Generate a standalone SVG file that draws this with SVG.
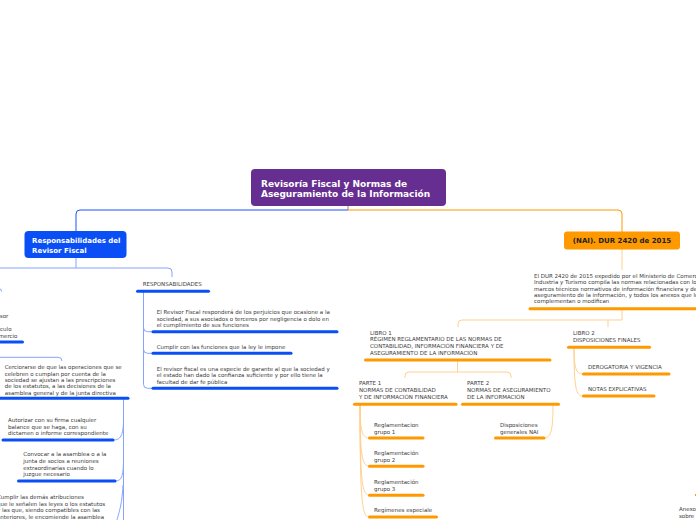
<svg xmlns="http://www.w3.org/2000/svg" width="696" height="520" viewBox="0 0 696 520">
<style>
.t{font-family:"DejaVu Sans",Verdana,sans-serif;font-size:5.5px;fill:#3a3a3a}
.ub{stroke:#0a4ff5;stroke-width:3;stroke-linecap:round;fill:none}
.uo{stroke:#ff9900;stroke-width:3;stroke-linecap:round;fill:none}
.cb{stroke:#86a3ff;stroke-width:1;fill:none}
.co{stroke:#ffd08f;stroke-width:1;fill:none}
.hb{font-family:"DejaVu Sans",Verdana,sans-serif;font-weight:bold;fill:#fff}
</style>
<rect width="696" height="520" fill="#fff"/>
<g id="connectors">
<path d="M348,206 V210" stroke="#a08a70" fill="none"/>
<path d="M348,210 H80 Q76,210 76,214 V231" stroke="#1a50ff" fill="none"/>
<path d="M348,210 H618 Q622,210 622,214 V232" stroke="#ff9900" fill="none"/>
<path class="cb" d="M76,258 V268 M0,268 H168 Q172,268 172,272 V277"/>
<path class="cb" d="M143.5,292 V384.3 Q143.5,388.3 147.5,388.3 H153 M143.5,327.7 Q143.5,331.7 147.5,331.7 H153 M143.5,349.3 Q143.5,353.3 147.5,353.3 H153"/>
<path class="cb" d="M0,289 Q1.5,289 1.5,291.5"/>
<path class="cb" d="M0,357.3 H58 Q62,357.3 62,361"/>
<path class="cb" d="M123.5,399 V520 M123.5,420 C123.5,436 120,440 113.5,440 M123.5,460 C123.5,477 121,481 115.5,481 M123,485 C122,505 119,512 117,520"/>
<path class="co" d="M622,249 V270"/>
<path class="co" d="M622,309 V320 H462 Q458,320 458,324 V327 M608,320 V327"/>
<path class="co" d="M457.5,360 V372 M405,378 V376 Q405,372 409,372 H507 Q511,372 511,376 V378"/>
<path class="co" d="M360,405 C360,430 362,438 369,438 M360,405 C360,455 362,466 369,466 M360,405 C360,480 362,495 369,495 M360,405 C360,500 362,517 369,517"/>
<path class="co" d="M553,405 C553,430 551,438 544,438"/>
<path class="co" d="M574,348 C574,368 576,374 583,374 M574,348 C574,388 576,396 583,396"/>
</g>
<g id="root">
<rect x="251" y="169" width="195" height="37" rx="4" fill="#662e91"/>
<text class="hb" font-size="9" x="261" y="186.7">Revisoría Fiscal y Normas de</text>
<text class="hb" font-size="9" x="261" y="196.7">Aseguramiento de la Información</text>
</g>
<g id="responsabilidades">
<rect x="24.5" y="231" width="102" height="27" rx="4" fill="#0a4ff5"/>
<text class="hb" font-size="7" x="32" y="243.3">Responsabilidades del</text>
<text class="hb" font-size="7" x="32" y="252.5">Revisor Fiscal</text>
</g>
<g id="nai">
<rect x="564" y="231.5" width="116" height="18" rx="3" fill="#ff9900"/>
<text font-family="DejaVu Sans,Verdana,sans-serif" font-weight="bold" font-size="7" fill="#222" x="622" y="243.3" text-anchor="middle">(NAI). DUR 2420 de 2015</text>
</g>
<g id="resp-title">
<text class="t" x="142.7" y="286">RESPONSABILIDADES</text>
<path class="ub" d="M137.5,291.3 H208.5"/>
</g>
<g id="resp-1">
<text class="t" x="156.7" y="314">El Revisor Fiscal responderá de los perjuicios que ocasione a la</text>
<text class="t" x="156.7" y="320.7">sociedad, a sus asociados o terceros por negligencia o dolo en</text>
<text class="t" x="156.7" y="327.3">el cumplimiento de sus funciones</text>
<path class="ub" d="M153,331.7 H337"/>
</g>
<g id="resp-2">
<text class="t" x="156.7" y="349">Cumplir con las funciones que la ley le impone</text>
<path class="ub" d="M153,353.3 H291"/>
</g>
<g id="resp-3">
<text class="t" x="156.7" y="370.7">El revisor fiscal es una especie de garante al que la sociedad y</text>
<text class="t" x="156.7" y="377.3">el estado han dado la confianza suficiente y por ello tiene la</text>
<text class="t" x="156.7" y="384">facultad de dar fe pública</text>
<path class="ub" d="M153,388.3 H337"/>
</g>
<g id="left-cut">
<text class="t" x="8.3" y="318" text-anchor="end">sor</text>
<text class="t" x="11.5" y="331" text-anchor="end">culo</text>
<text class="t" x="17.5" y="337.5" text-anchor="end">mercio</text>
<path class="ub" d="M-2,342 H22.5"/>
</g>
<g id="cerciorarse">
<text class="t" x="4.7" y="369.3">Cerciorarse de que las operaciones que se</text>
<text class="t" x="4.7" y="375.6">celebren o cumplan por cuenta de la</text>
<text class="t" x="4.7" y="381.9">sociedad se ajustan a las prescripciones</text>
<text class="t" x="4.7" y="388.2">de los estatutos, a las decisiones de la</text>
<text class="t" x="4.7" y="394.5">asamblea general y de la junta directiva</text>
<path class="ub" d="M-2,398.3 H128"/>
</g>
<g id="autorizar">
<text class="t" x="8" y="422">Autorizar con su firma cualquier</text>
<text class="t" x="8" y="428.5">balance que se haga, con su</text>
<text class="t" x="8" y="435">dictamen o  informe correspondiente</text>
<path class="ub" d="M3,440 H113"/>
</g>
<g id="convocar">
<text class="t" x="23.3" y="456">Convocar a la asamblea o a la</text>
<text class="t" x="23.3" y="462.8">junta de socios a reuniones</text>
<text class="t" x="23.3" y="469.6">extraordinarias cuando lo</text>
<text class="t" x="23.3" y="476.4">juzgue necesario</text>
<path class="ub" d="M18.5,481 H115"/>
</g>
<g id="cumplir-demas">
<text class="t" x="-3" y="499">Cumplir las demás atribuciones</text>
<text class="t" x="-3" y="505.5">que le señalen las leyes o los estatutos</text>
<text class="t" x="-3" y="512">y las que, siendo compatibles con las</text>
<text class="t" x="-3" y="518.5">anteriores, le encomiende la asamblea</text>
</g>
<g id="dur">
<text class="t" x="534" y="278">El DUR 2420 de 2015 expedido por el Ministerio de Comercio,</text>
<text class="t" x="534" y="284.3">Industria y Turismo compila las normas relacionadas con los</text>
<text class="t" x="534" y="290.6">marcos técnicos normativos de información financiera y de</text>
<text class="t" x="534" y="296.9">aseguramiento de la información, y todos los anexos que lo</text>
<text class="t" x="534" y="303.2">complementan o modifican</text>
<path class="uo" d="M530,308.7 H700"/>
</g>
<g id="libro1">
<text class="t" x="370" y="334.7">LIBRO 1</text>
<text class="t" x="370" y="341.4">RÉGIMEN REGLAMENTARIO DE LAS NORMAS DE</text>
<text class="t" x="370" y="348.1">CONTABILIDAD, INFORMACIÓN FINANCIERA Y DE</text>
<text class="t" x="370" y="354.8">ASEGURAMIENTO DE LA INFORMACIÓN</text>
<path class="uo" d="M365.5,360 H550"/>
</g>
<g id="libro2">
<text class="t" x="573" y="335.3">LIBRO 2</text>
<text class="t" x="573" y="342">DISPOSICIONES FINALES</text>
<path class="uo" d="M568.5,347.3 H649.5"/>
</g>
<g id="derogatoria">
<text class="t" x="588" y="368.7">DEROGATORIA Y VIGENCIA</text>
<path class="uo" d="M583.5,374 H669"/>
</g>
<g id="notas">
<text class="t" x="588" y="391.3">NOTAS EXPLICATIVAS</text>
<path class="uo" d="M583.5,396 H654"/>
</g>
<g id="parte1">
<text class="t" x="359" y="385.3">PARTE 1</text>
<text class="t" x="359" y="392">NORMAS DE CONTABILIDAD</text>
<text class="t" x="359" y="398.7">Y DE INFORMACIÓN FINANCIERA</text>
<path class="uo" d="M354.5,404.3 H456"/>
</g>
<g id="parte2">
<text class="t" x="467" y="385.3">PARTE 2</text>
<text class="t" x="467" y="392">NORMAS DE ASEGURAMIENTO</text>
<text class="t" x="467" y="398.7">DE LA INFORMACIÓN</text>
<path class="uo" d="M462.5,404.3 H558.5"/>
</g>
<g id="grupo1">
<text class="t" x="374" y="427.3">Reglamentacion</text>
<text class="t" x="374" y="434">grupo 1</text>
<path class="uo" d="M369.5,438 H423"/>
</g>
<g id="grupo2">
<text class="t" x="374" y="455.3">Reglamentación</text>
<text class="t" x="374" y="462">grupo 2</text>
<path class="uo" d="M369.5,466.3 H423"/>
</g>
<g id="grupo3">
<text class="t" x="374" y="484">Reglamentación</text>
<text class="t" x="374" y="490.5">grupo 3</text>
<path class="uo" d="M369.5,495.3 H423"/>
</g>
<g id="regimenes">
<text class="t" x="374" y="512">Regímenes especiale</text>
<path class="uo" d="M369.5,517 H436.5"/>
</g>
<g id="disposiciones">
<text class="t" x="500" y="427.3">Disposiciones</text>
<text class="t" x="500" y="434">generales NAI</text>
<path class="uo" d="M495.5,438 H544"/>
</g>
<g id="anexo">
<rect x="695" y="494" width="2" height="2" fill="#ff9900"/>
<text class="t" x="679" y="511.3">Anexo</text>
<text class="t" x="679" y="518">sobre</text>
</g>
</svg>
